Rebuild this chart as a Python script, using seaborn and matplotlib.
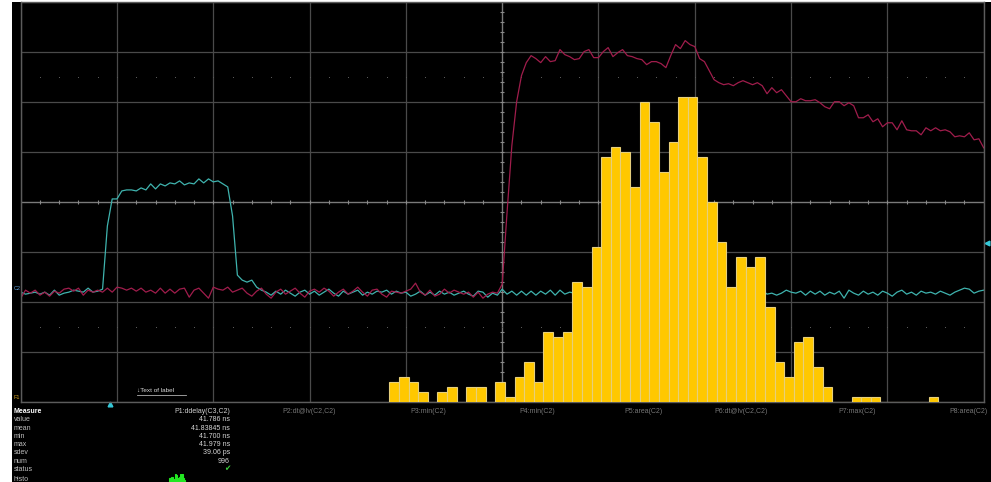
import numpy as np
import pandas as pd
import matplotlib
matplotlib.use("Agg")
import matplotlib.pyplot as plt
import seaborn as sns
from matplotlib.patches import Rectangle
from matplotlib.lines import Line2D

# ---------------------------------------------------------------- data
# Acquisition: 10 ns/div, 50 mV/div, samples every 0.5 ns
t_start_ns = -50.0
t_step_ns = 0.5

# C3 (cyan) pulse, mV
c3_mv = [
    -90, -92, -91, -90, -92, -90, -93, -88, -93, -91,
    -90, -88, -89, -90, -86, -90, -89, -87, -24, 3,
    3, 11, 12, 12, 11, 14, 12, 18, 13, 18,
    16, 19, 18, 21, 17, 19, 18, 23, 19, 23,
    20, 21, 18, 15, -14, -73, -78, -80, -78, -85,
    -88, -90, -93, -89, -92, -88, -91, -94, -90, -88,
    -92, -89, -93, -90, -87, -91, -94, -89, -92, -90,
    -88, -93, -90, -92, -89, -90, -88, -92, -89, -91,
    -90, -94, -92, -89, -93, -90, -93, -89, -92, -90,
    -93, -91, -89, -92, -94, -89, -90, -95, -91, -93,
    -87, -92, -89, -93, -89, -93, -89, -93, -89, -92,
    -88, -93, -88, -92, -90, -91, -89, -93, -90, -88,
    -92, -90, -93, -89, -91, -94, -90, -88, -92, -89,
    -93, -90, -88, -91, -93, -89, -92, -90, -94, -89,
    -91, -88, -92, -90, -93, -89, -91, -94, -90, -88,
    -91, -89, -92, -90, -88, -92, -91, -93, -91, -88,
    -90, -91, -89, -93, -89, -92, -89, -93, -90, -92,
    -89, -96, -88, -91, -93, -89, -92, -90, -93, -89,
    -91, -94, -90, -88, -92, -90, -93, -89, -91, -90,
    -92, -89, -91, -93, -90, -88, -86, -87, -91, -89,
    -88,
]

# C2 (maroon) step response, mV
c2_mv = [
    -96, -88, -91, -88, -93, -90, -94, -89, -91, -87,
    -86, -89, -86, -93, -88, -90, -88, -90, -86, -90,
    -85, -86, -88, -86, -89, -86, -90, -88, -91, -86,
    -91, -87, -91, -87, -86, -95, -88, -86, -91, -96,
    -85, -87, -88, -85, -90, -88, -86, -91, -94, -89,
    -86, -92, -96, -90, -87, -92, -89, -86, -91, -95,
    -89, -87, -90, -86, -89, -94, -90, -87, -92, -89,
    -85, -90, -94, -88, -87, -92, -95, -89, -90, -91,
    -89, -87, -81, -90, -93, -88, -94, -92, -87, -91,
    -88, -90, -92, -90, -95, -90, -96, -92, -90, -91,
    -82, -11, 56, 100, 126, 139, 146, 143, 139, 145,
    140, 141, 152, 147, 145, 142, 143, 150, 152, 144,
    144, 150, 154, 145, 149, 152, 146, 145, 143, 142,
    137, 140, 140, 138, 134, 146, 157, 153, 161, 157,
    155, 143, 140, 131, 122, 119, 117, 118, 116, 119,
    121, 119, 117, 119, 116, 108, 114, 109, 112, 106,
    100, 100, 103, 101, 101, 102, 99, 95, 93, 100,
    100, 96, 99, 96, 84, 84, 87, 80, 83, 75,
    79, 79, 72, 81, 72, 71, 71, 67, 74, 71,
    74, 71, 72, 70, 65, 66, 65, 69, 62, 63,
    54,
]

# P1 ddelay(C3,C2) histogram: 5 ps bins from 41.700 ns
hist_first_ns = 41.700
hist_bin_ns = 0.005
hist_counts = [
    4, 5, 4, 2, 0, 2, 3, 0, 3, 3,
    0, 4, 1, 5, 8, 4, 14, 13, 14, 24,
    23, 31, 49, 51, 50, 43, 60, 56, 46, 52,
    61, 61, 49, 40, 32, 23, 29, 27, 29, 19,
    8, 5, 12, 13, 7, 3, 0, 0, 1, 1,
    1, 0, 0, 0, 0, 0, 1,
]
hist_center_ns = 41.7561   # centre of histogram display
hist_ns_per_div = 0.05

trigger_time_ns = -40.7
trigger_level_mv = -40.6

row_labels = ["value", "mean", "min", "max", "sdev", "num", "status"]
p1_values = ["41.786 ns", "41.83845 ns", "41.700 ns", "41.979 ns",
             "39.06 ps", "996", "\u2714"]
param_headers = ["P1:ddelay(C3,C2)", "P2:dt@lv(C2,C2)", "P3:min(C2)",
                 "P4:min(C2)", "P5:area(C2)", "P6:dt@lv(C2,C2)",
                 "P7:max(C2)", "P8:area(C2)"]

# ---------------------------------------------------------------- figure
W, H = 991, 482
fig = plt.figure(figsize=(W / 100, H / 100), dpi=100, facecolor="black")
# white window frame on the left and top
fig.patches.append(Rectangle((0, 0), 12 / W, 1, transform=fig.transFigure,
                             facecolor="white", edgecolor="none", zorder=-5))
fig.patches.append(Rectangle((0, 1 - 1.5 / H), 1, 1.5 / H,
                             transform=fig.transFigure, facecolor="white",
                             edgecolor="none", zorder=-5))


def px_rect(x0, y0, x1, y1):
    return [x0 / W, (H - y1) / H, (x1 - x0) / W, (y1 - y0) / H]


grid_rect = px_rect(20.7, 1.5, 983.7, 402.4)

# waveform grid
ax = fig.add_axes(grid_rect)
ax.set_facecolor("black")
ax.set_xlim(-50, 50)
ax.set_ylim(-200, 200)
ax.set_xticks(np.arange(-50, 51, 10))
ax.set_yticks(np.arange(-200, 201, 50))
ax.grid(True, color="#4a4a4a", lw=0.9)
ax.tick_params(length=0, labelbottom=False, labelleft=False)
for s in ax.spines.values():
    s.set_color("#5c5c5c")
    s.set_linewidth(1.0)
ax.axhline(0, color="#7a7a7a", lw=0.9)
ax.axvline(0, color="#7a7a7a", lw=0.9)
minor_t = np.arange(-48, 49, 2)
minor_v = np.arange(-190, 191, 10)
ax.plot(minor_t, np.zeros_like(minor_t), ls="none", marker="|", ms=3.2,
        mew=0.8, color="#8a8a8a")
ax.plot(np.zeros_like(minor_v), minor_v, ls="none", marker="_", ms=3.2,
        mew=0.8, color="#8a8a8a")
for lvl in (125, -125):
    ax.plot(minor_t, np.full_like(minor_t, lvl, dtype=float), ls="none",
            marker="s", ms=0.7, mew=0, color="#5a5a5a")

t_ns = t_start_ns + t_step_ns * np.arange(len(c3_mv))
traces = pd.DataFrame({"t": t_ns, "c3": c3_mv, "c2": c2_mv})
sns.lineplot(data=traces, x="t", y="c3", ax=ax, color="#3fb3ae", lw=0.9,
             estimator=None, sort=False, legend=False)
sns.lineplot(data=traces, x="t", y="c2", ax=ax, color="#a01d4c", lw=0.9,
             estimator=None, sort=False, legend=False)
ax.set_xlabel("")
ax.set_ylabel("")

# trigger markers
ax.plot([trigger_time_ns], [-202.0], marker="^", ms=3.4, color="#35c8d8",
        clip_on=False, ls="none")
ax.plot([50.3], [trigger_level_mv], marker="<", ms=3.4, color="#35c8d8",
        clip_on=False, ls="none")

# histogram overlay
centers = hist_first_ns + hist_bin_ns * np.arange(len(hist_counts))
edges = [float(e) for e in
         hist_first_ns - hist_bin_ns / 2
         + hist_bin_ns * np.arange(len(hist_counts) + 1)]
hist_df = pd.DataFrame({"delay": centers, "count": hist_counts})

axh = fig.add_axes(grid_rect)
axh.patch.set_alpha(0)
sns.histplot(data=hist_df, x="delay", weights="count", bins=edges, ax=axh,
             color="#ffc800", edgecolor="#e6cf7c", linewidth=0.8, alpha=1)
axh.set_xlim(hist_center_ns - 5 * hist_ns_per_div,
             hist_center_ns + 5 * hist_ns_per_div)
axh.set_ylim(0, 80)
axh.axis("off")

# small labels on the grid
font = ["Liberation Sans", "DejaVu Sans"]


def ftxt(x, y, s, **kw):
    kw.setdefault("fontsize", 5)
    kw.setdefault("family", font)
    kw.setdefault("va", "center")
    return fig.text(x / W, 1 - y / H, s, **kw)


ftxt(137, 390.5, "\u2193Text of label", color="#d8d8d8", fontsize=4.6)
fig.add_artist(Line2D([137 / W, 186 / W], [1 - 394.5 / H] * 2,
                      color="#b0b0b0", lw=0.6))
ftxt(13, 397.5, "F1", color="#d9a520", fontsize=4)
ftxt(13.5, 288.5, "C2", color="#5f9fd8", fontsize=4)

# measurement table
ftxt(14, 411.5, "Measure", color="white", fontweight="bold")
row_y = [419.7, 428, 436.3, 444.7, 453, 461.3, 469.5]
for lab, val, y in zip(row_labels, p1_values, row_y):
    ftxt(14, y, lab, color="#bdbdbd")
    if val == "\u2714":
        ftxt(230, y, val, color="#3ccf3c", ha="right", fontsize=5.5)
    else:
        ftxt(230, y, val, color="#d6d6d6", ha="right")
ftxt(14, 479.5, "histo", color="#bdbdbd")

head_x = [230, 336, 446, 555, 663, 768, 876, 988]
for i, (hx, name) in enumerate(zip(head_x, param_headers)):
    ftxt(hx, 411.5, name, ha="right",
         color="#d0d0d0" if i == 0 else "#767676")

# thumbnail histogram in the table
axm = fig.add_axes(px_rect(140, 474, 216, 492))
axm.patch.set_alpha(0)
sns.histplot(data=hist_df, x="delay", weights="count", bins=edges, ax=axm,
             color="#22e622", edgecolor="#22e622", linewidth=0.8, alpha=1)
axm.set_xlim(edges[0], edges[-1])
axm.set_ylim(0, max(hist_counts))
axm.axis("off")

fig.savefig("out.png", dpi=100, facecolor=fig.get_facecolor())
